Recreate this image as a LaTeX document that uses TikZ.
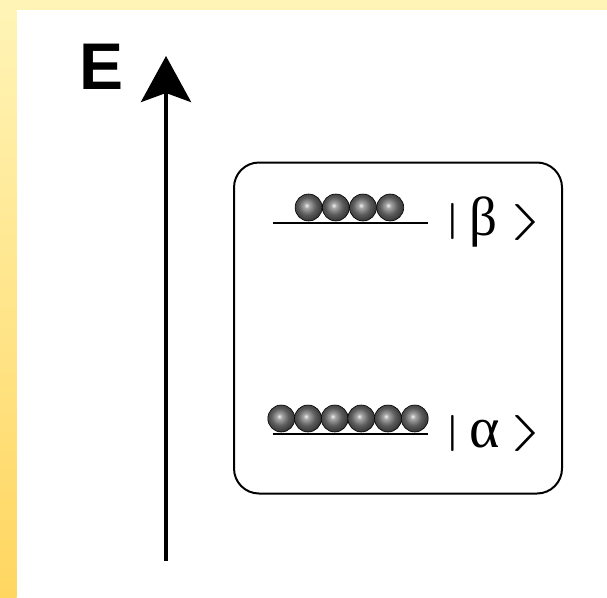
\documentclass[tikz,border=0pt]{standalone}
\usepackage{fontspec}
\usepackage{graphicx}
\newfontfamily\grkfont{Liberation Serif}
\newfontfamily\labfont{Liberation Sans}
\usetikzlibrary{arrows.meta}
% shaded sphere used for the particles
\pgfdeclareradialshading{sphere}{\pgfpoint{-4bp}{4bp}}{%
  color(0bp)=(white!95!black);
  color(5bp)=(black!35);
  color(16bp)=(black!64);
  color(30bp)=(black!84);
  color(44bp)=(black!96);
  color(60bp)=(black)}
\definecolor{bandtop}{HTML}{FFF4B6}
\definecolor{bandbot}{HTML}{FFD660}
\tikzset{
  ball/.style={circle, inner sep=0pt, minimum size=27pt, shading=sphere, draw=black, line width=0.6pt},
  level/.style={line width=2pt},
  ketpart/.style={inner sep=0pt, outer sep=0pt},
}
\begin{document}
\begin{tikzpicture}[x=1pt, y=-1pt]
  \useasboundingbox (0,0) rectangle (607,597);
  % frame bands
  \fill[bandtop] (0,0) rectangle (607,10);
  \shade[top color=bandtop, bottom color=bandbot] (0,10) rectangle (16.5,597);
  \fill[white] (16.5,10) rectangle (607,597);

  % energy axis
  \coordinate (axbot) at (166,561);
  \coordinate (axtop) at (166,56);
  \draw[line width=4pt, -{Stealth[length=46pt, width=50pt, inset=9pt]}] (axbot) -- (axtop);
  \node[ketpart, font=\labfont\bfseries\fontsize{66}{66}\selectfont, anchor=base west] (E) at (79,89) {E};

  % panel
  \node[draw, line width=2pt, rounded corners=25pt, minimum width=328pt, minimum height=331pt, inner sep=0pt] (panel) at (398,328) {};

  % upper level |beta>
  \coordinate (bl) at (272.5,222.5);
  \coordinate (br) at (428,222.5);
  \draw[level] (bl) -- (br);
  \foreach \i/\x in {1/308.6,2/335.8,3/363,4/390.2}
    \node[ball] (bb\i) at (\x,207.5) {};
  \node[ketpart] (bbar) at (452.5,221) {\scalebox{6}[3.6]{$|$}};
  \node[ketpart, anchor=base west, font=\grkfont\fontsize{55}{55}\selectfont] (beta) at (469,235) {β};
  \node[ketpart] (bang) at (527.5,222) {\scalebox{9}[3.6]{$\rangle$}};

  % lower level |alpha>
  \coordinate (al) at (272.5,434);
  \coordinate (ar) at (428,434);
  \draw[level] (al) -- (ar);
  \foreach \i/\x in {1/281.3,2/308,3/334.7,4/361.3,5/388,6/414.7}
    \node[ball] (ab\i) at (\x,418.5) {};
  \node[ketpart] (abar) at (452.5,433) {\scalebox{6}[3.6]{$|$}};
  \node[ketpart, anchor=base west, font=\grkfont\fontsize{58}{58}\selectfont] (alpha) at (469,447) {α};
  \node[ketpart] (aang) at (527.5,433) {\scalebox{9}[3.6]{$\rangle$}};
\end{tikzpicture}
\end{document}
